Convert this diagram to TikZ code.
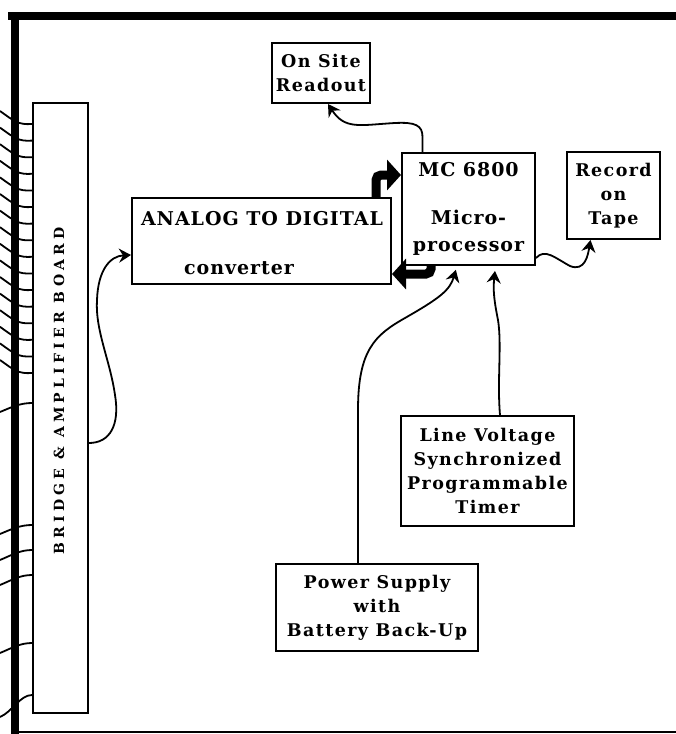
\documentclass[tikz,border=0pt]{standalone}
\usepackage{fontspec}
\setmainfont{DejaVu Serif}
\newfontfamily\lblfont{DejaVu Serif}[LetterSpace=8]
\newfontfamily\bigfont{DejaVu Serif}[LetterSpace=5]
\newfontfamily\brdfont{DejaVu Serif}[LetterSpace=30]
\usetikzlibrary{arrows.meta,calc}
\begin{document}
\begin{tikzpicture}[x=1pt,y=-1pt,
  box/.style={draw, line width=2pt, inner sep=0pt, align=center,
    font=\lblfont\bfseries\fontsize{17.5pt}{24pt}\selectfont},
  bigtext/.style={inner sep=0pt, align=center,
    font=\bigfont\bfseries\fontsize{19pt}{27pt}\selectfont},
  wire/.style={line width=1.8pt},
  arr/.style={line width=1.8pt, -{Stealth[length=12pt,width=14pt,inset=4pt]}},
  fat/.style={line width=9pt, rounded corners=5pt, -{Triangle[length=14pt,width=30pt]}}]
\useasboundingbox (0,0) rectangle (676,734);
% frame
\draw[line width=8pt] (8,16) -- (676,16);
\draw[line width=8pt] (15,12) -- (15,734);
\draw[line width=2.2pt] (15,732) -- (676,732);
% nodes
\node[draw, line width=1.8pt, minimum width=55pt, minimum height=610pt, inner sep=0pt] (board) at (60.5,408) {};
\node[rotate=90, inner sep=0pt, font=\brdfont\bfseries\fontsize{14pt}{14pt}\selectfont] (boardlbl) at (59,391) {BRIDGE \& AMPLIFIER BOARD};
\node[box, minimum width=98pt, minimum height=60pt] (readout) at (321,73) {On Site\\Readout};
\node[box, minimum width=259pt, minimum height=86pt] (ad) at (261.5,241) {};
\node[bigtext] (adtop) at (262,219) {ANALOG TO DIGITAL};
\node[bigtext] (adbot) at (239,268) {converter};
\node[bigtext, draw, line width=2pt, minimum width=133pt, minimum height=112pt] (mc) at (468.5,209) {MC 6800\\[21pt]Micro-\\processor};
\node[box, minimum width=93pt, minimum height=87pt] (rec) at (613.5,195.5) {Record\\on\\Tape};
\node[box, minimum width=173pt, minimum height=110pt] (lvt) at (487.5,471) {Line Voltage\\Synchronized\\Programmable\\Timer};
\node[box, minimum width=202pt, minimum height=87pt] (ps) at (377,607.5) {Power Supply\\with\\Battery Back-Up};
% wires into the board
\foreach \y in {124,140.6,...,374}
  \draw[wire] (0,\y-13) .. controls (14,\y-3) and (18,\y+1) .. ($(board.west)+(0,\y-408)$);
\foreach \y/\d in {403/9,525/9,550/10,575/10,643/10,695/22}
  \draw[wire] (0,\y+\d) .. controls (12,\y+\d-5) and (20,\y) .. ($(board.west)+(0,\y-408)$);
% connectors
\draw[arr] ([yshift=-35pt]board.east) .. controls (110,443) and (120,425) .. (115,395)
  .. controls (110,360) and (95,330) .. (97,300)
  .. controls (98,270) and (110,256) .. ([yshift=-14pt]ad.west);
\draw[fat] ([xshift=-16pt]ad.north east) |- ([yshift=34pt]mc.west);
\draw[fat] ([xshift=30pt]mc.south west) |- ([yshift=-33pt]ad.east);
\draw[arr] ([xshift=-46pt]mc.north) -- ++(0,-14) .. controls (423,125) and (415,122) .. (395,123)
  .. controls (360,125) and (345,130) .. ([xshift=7pt]readout.south);
\draw[arr] ([yshift=-49pt]mc.east) .. controls (545,248) and (555,258) .. (570,266)
  .. controls (585,272) and (588,255) .. ([xshift=-23pt]rec.south);
\draw[arr, shorten >=4pt] ([xshift=-19pt]ps.north) -- (358,410) .. controls (358,350) and (375,335) .. (405,318)
  .. controls (440,298) and (450,290) .. ([xshift=-11.5pt]mc.south);
\draw[arr, shorten >=5pt] ([xshift=12.5pt]lvt.north) .. controls (497,380) and (502,345) .. (498,320)
  .. controls (494,300) and (493,290) .. ([xshift=27pt]mc.south);
\end{tikzpicture}
\end{document}
